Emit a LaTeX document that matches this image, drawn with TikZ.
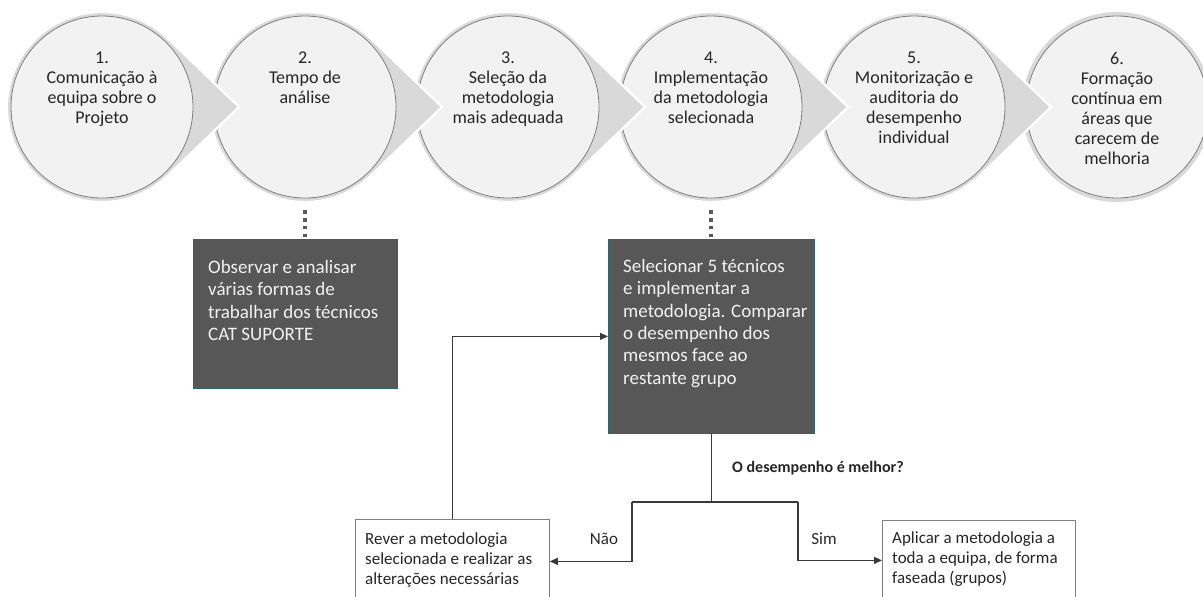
\documentclass[tikz,border=0pt]{standalone}
\usepackage{fontspec}
\setmainfont{Carlito}
\usetikzlibrary{arrows.meta}
\definecolor{tailgray}{HTML}{D9D9D9}
\definecolor{circfill}{HTML}{F2F2F2}
\definecolor{circline}{HTML}{7F7F7F}
\definecolor{boxfill}{HTML}{575757}
\definecolor{boxline}{HTML}{31626F}
\definecolor{txt}{HTML}{262626}
\definecolor{conncol}{HTML}{3A3A3A}
\definecolor{dotcol}{HTML}{595959}
\definecolor{lightline}{HTML}{808080}
\newcommand\mytear[2]{%
  \begin{scope}[shift={(#1,#2)}]
    \filldraw[tailshape] (137pt,0pt) -- (46.7:95pt) arc[start angle=46.7, end angle=313.3, radius=95pt] -- cycle;
  \end{scope}}
\tikzset{
  tailshape/.style={fill=tailgray, draw=white, line width=2.2pt, line join=miter},
  stepcircle/.style={circle, minimum size=182pt, inner sep=0pt, fill=circfill, draw=circline, line width=0.8pt},
  steptext/.style={anchor=north, align=center, inner sep=0pt, text=txt,
    font=\fontsize{18}{20}\selectfont, execute at begin node=\strut},
  darkbox/.style={rectangle, anchor=north west, inner sep=0pt, fill=boxfill, draw=boxline, line width=0.8pt},
  darktext/.style={anchor=north west, align=left, inner sep=0pt, text=white!95!black,
    font=\fontsize{19}{22.4}\selectfont, execute at begin node=\strut},
  lightbox/.style={rectangle, anchor=north west, inner sep=0pt, fill=white, draw=lightline, line width=0.8pt},
  lighttext/.style={anchor=north west, align=left, inner sep=0pt, text=txt,
    font=\fontsize{17}{20.3}\selectfont, execute at begin node=\strut},
  dotline/.style={draw=dotcol, line width=3.5pt, dash pattern=on 3.5pt off 4.2pt},
  conn/.style={draw=conncol, line width=1.2pt},
  arr/.style={-{Triangle[length=8pt,width=7pt]}},
  lbl/.style={anchor=base, inner sep=0pt, text=txt, font=\fontsize{17}{20}\selectfont},
}
\begin{document}
\begin{tikzpicture}[x=1pt,y=-1pt]
\useasboundingbox (0,0) rectangle (1203,597);

% step 6 (no tail)
\fill[tailgray] (1117,107) circle[radius=95pt];
\node[stepcircle] (c6) at (1117,107) {};
\node[steptext] (t6) at (1117,52) {6.\\Formação\\contínua em\\áreas que\\carecem de\\melhoria};
% step 5
\mytear{914}{107}
\node[stepcircle] (c5) at (914,107) {};
\node[steptext] (t5) at (914,52) {5.\\Monitorização e\\auditoria do\\desempenho\\individual};
% step 4
\mytear{711}{107}
\node[stepcircle] (c4) at (711,107) {};
\node[steptext] (t4) at (711,52) {4.\\Implementação\\da metodologia\\selecionada};
% step 3
\mytear{508}{107}
\node[stepcircle] (c3) at (508,107) {};
\node[steptext] (t3) at (508,52) {3.\\Seleção da\\metodologia\\mais adequada};
% step 2
\mytear{305}{107}
\node[stepcircle] (c2) at (305,107) {};
\node[steptext] (t2) at (305,52) {2.\\Tempo de\\análise};
% step 1
\mytear{102}{107}
\node[stepcircle] (c1) at (102,107) {};
\node[steptext] (t1) at (102,52) {1.\\Comunicação à\\equipa sobre o\\Projeto};

% dark boxes
\node[darkbox, minimum width=204pt, minimum height=149pt] (b1) at (193,239) {};
\node[darktext] (b1t) at (208,260) {Observar e analisar\\várias formas de\\trabalhar dos técnicos\\CAT SUPORTE};
\node[darkbox, minimum width=206pt, minimum height=194pt] (b2) at (608,239) {};
\node[darktext] (b2t) at (623,259) {Selecionar 5 técnicos\\e implementar a\\metodologia. Comparar\\o desempenho dos\\mesmos face ao\\restante grupo};

% dotted links
\draw[dotline, shorten <=12pt] (c2.south) -- (c2.south |- b1.north);
\draw[dotline, shorten <=12pt] (c4.south) -- (c4.south |- b2.north);

% light boxes
\node[lightbox, minimum width=194pt, minimum height=84pt] (rev) at (355,519) {};
\node[lighttext] (revt) at (365,532) {Rever a metodologia\\selecionada e realizar as\\alterações necessárias};
\node[lightbox, minimum width=193pt, minimum height=80pt] (apl) at (882,520) {};
\node[lighttext] (aplt) at (892,531) {Aplicar a metodologia a\\toda a equipa, de forma\\faseada (grupos)};

% decision
\coordinate (jl) at (632,502);
\coordinate (jr) at (798,502);
\draw[conn] (b2.south) -- (b2.south |- jl);
\draw[conn] (jl) -- (jr);
\draw[conn, arr] (jl) |- (rev.east);
\draw[conn, arr] (jr) |- (apl.west);
\draw[conn, arr] (rev.north) |- (b2.west);

\node[anchor=base west, inner sep=0pt, text=txt, font=\fontsize{16}{19}\selectfont\bfseries] (q) at (732,472) {O desempenho é melhor?};
\node[lbl] (nao) at (604,544) {Não};
\node[lbl] (sim) at (824,544) {Sim};
\end{tikzpicture}
\end{document}
